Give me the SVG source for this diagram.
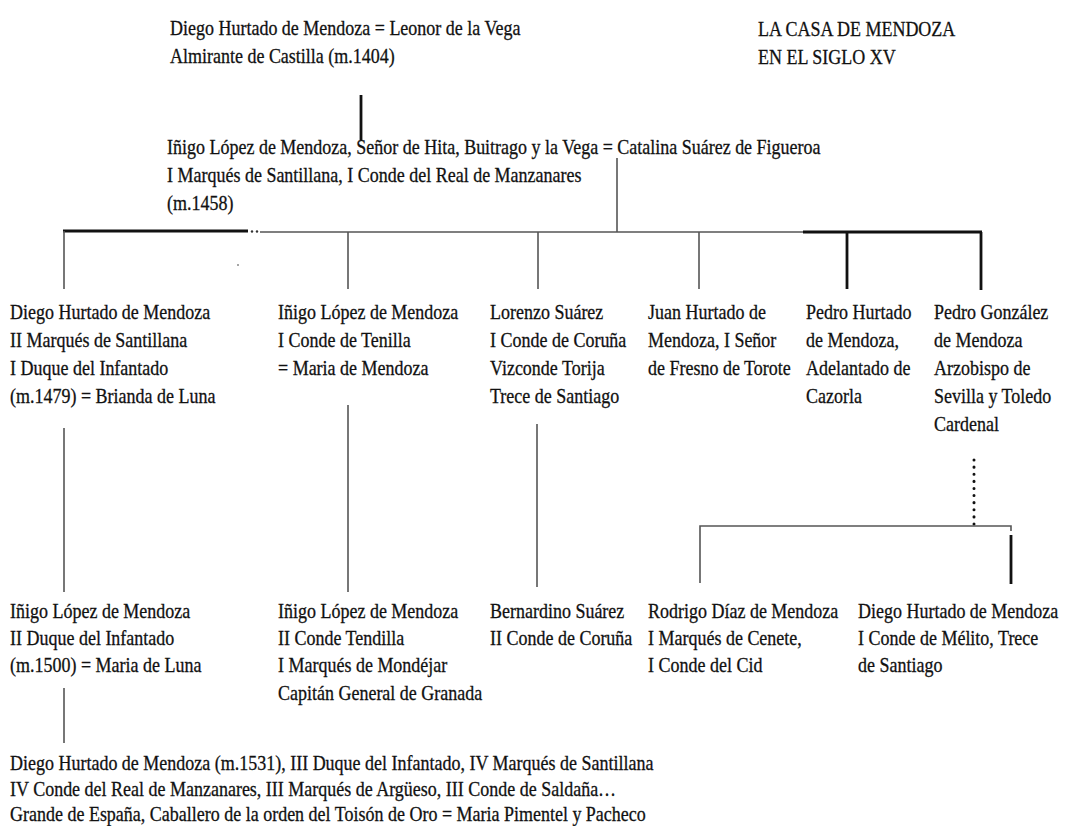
<svg xmlns="http://www.w3.org/2000/svg" width="1066" height="826" viewBox="0 0 1066 826">
<style>
  text { font-family: "Liberation Serif", "Times New Roman", serif; font-size: 21.5px; fill: #111; stroke: #111; stroke-width: 0.3; }
  .thin { stroke: #555; stroke-width: 1.6; fill: none; }
  .thick { stroke: #111; stroke-width: 2.8; fill: none; }
  .dots { stroke: #111; stroke-width: 3; stroke-linecap: round; stroke-dasharray: 0.1 7; fill: none; }
</style>
<rect width="1066" height="826" fill="#ffffff"/>

<g id="connectors">
  <line class="thick" x1="361" y1="95" x2="361" y2="140"/>
  <line class="thin" x1="617" y1="158" x2="617" y2="232"/>
  <line class="thick" x1="63" y1="231" x2="248" y2="231"/>
  <circle cx="252" cy="231.5" r="1.2" fill="#333"/>
  <circle cx="257" cy="231.5" r="1.2" fill="#333"/>
  <line class="thin" x1="260" y1="232" x2="803" y2="232"/>
  <line class="thick" x1="803" y1="232" x2="982" y2="232"/>
  <line class="thin" x1="64" y1="231" x2="64" y2="289"/>
  <line class="thin" x1="348" y1="232" x2="348" y2="289"/>
  <line class="thin" x1="538" y1="232" x2="538" y2="289"/>
  <line class="thin" x1="699" y1="232" x2="699" y2="289"/>
  <line class="thick" x1="847" y1="232" x2="847" y2="289"/>
  <line class="thick" x1="981" y1="232" x2="981" y2="290"/>
  <circle cx="238" cy="265" r="1" fill="#888"/>
  <line class="thin" x1="64" y1="428" x2="64" y2="592"/>
  <line class="thin" x1="348" y1="405" x2="348" y2="592"/>
  <line class="thin" x1="537" y1="424" x2="537" y2="587"/>
  <line class="dots" x1="974" y1="460" x2="974" y2="530"/>
  <polyline class="thin" points="700,583 700,526 1011,526 1011,531"/>
  <line class="thick" x1="1011" y1="535" x2="1011" y2="584"/>
  <line class="thin" x1="64" y1="688" x2="64" y2="743"/>
</g>

<g id="title" transform="translate(758 0) scale(0.837 1)">
  <text x="0" y="36">LA CASA DE MENDOZA</text>
  <text x="0" y="64">EN EL SIGLO XV</text>
</g>

<g id="n-diego-almirante" transform="translate(170 0) scale(0.837 1)">
  <text x="0" y="35">Diego Hurtado de Mendoza = Leonor de la Vega</text>
  <text x="0" y="63">Almirante de Castilla (m.1404)</text>
</g>

<g id="n-inigo-santillana" transform="translate(167 0) scale(0.837 1)">
  <text x="0" y="154">Iñigo López de Mendoza, Señor de Hita, Buitrago y la Vega = Catalina Suárez de Figueroa</text>
  <text x="0" y="182">I Marqués de Santillana, I Conde del Real de Manzanares</text>
  <text x="0" y="210">(m.1458)</text>
</g>

<g id="n-diego-infantado" transform="translate(10 0) scale(0.837 1)">
  <text x="0" y="319">Diego Hurtado de Mendoza</text>
  <text x="0" y="347">II Marqués de Santillana</text>
  <text x="0" y="375">I Duque del Infantado</text>
  <text x="0" y="403">(m.1479) = Brianda de Luna</text>
</g>

<g id="n-inigo-tendilla" transform="translate(278 0) scale(0.837 1)">
  <text x="0" y="319">Iñigo López de Mendoza</text>
  <text x="0" y="347">I Conde de Tenilla</text>
  <text x="0" y="375">= Maria de Mendoza</text>
</g>

<g id="n-lorenzo" transform="translate(490 0) scale(0.837 1)">
  <text x="0" y="319">Lorenzo Suárez</text>
  <text x="0" y="347">I Conde de Coruña</text>
  <text x="0" y="375">Vizconde Torija</text>
  <text x="0" y="403">Trece de Santiago</text>
</g>

<g id="n-juan" transform="translate(648 0) scale(0.837 1)">
  <text x="0" y="319">Juan Hurtado de</text>
  <text x="0" y="347">Mendoza, I Señor</text>
  <text x="0" y="375">de Fresno de Torote</text>
</g>

<g id="n-pedro-hurtado" transform="translate(806 0) scale(0.837 1)">
  <text x="0" y="319">Pedro Hurtado</text>
  <text x="0" y="347">de Mendoza,</text>
  <text x="0" y="375">Adelantado de</text>
  <text x="0" y="403">Cazorla</text>
</g>

<g id="n-pedro-gonzalez" transform="translate(934 0) scale(0.837 1)">
  <text x="0" y="319">Pedro González</text>
  <text x="0" y="347">de Mendoza</text>
  <text x="0" y="375">Arzobispo de</text>
  <text x="0" y="403">Sevilla y Toledo</text>
  <text x="0" y="431">Cardenal</text>
</g>

<g id="n-inigo-ii-duque" transform="translate(10 0) scale(0.837 1)">
  <text x="0" y="618">Iñigo López de Mendoza</text>
  <text x="0" y="645">II Duque del Infantado</text>
  <text x="0" y="672">(m.1500) = Maria de Luna</text>
</g>

<g id="n-inigo-mondejar" transform="translate(278 0) scale(0.837 1)">
  <text x="0" y="618">Iñigo López de Mendoza</text>
  <text x="0" y="645">II Conde Tendilla</text>
  <text x="0" y="672">I Marqués de Mondéjar</text>
  <text x="0" y="700">Capitán General de Granada</text>
</g>

<g id="n-bernardino" transform="translate(490 0) scale(0.837 1)">
  <text x="0" y="618">Bernardino Suárez</text>
  <text x="0" y="645">II Conde de Coruña</text>
</g>

<g id="n-rodrigo" transform="translate(648 0) scale(0.837 1)">
  <text x="0" y="618">Rodrigo Díaz de Mendoza</text>
  <text x="0" y="645">I Marqués de Cenete,</text>
  <text x="0" y="672">I Conde del Cid</text>
</g>

<g id="n-diego-melito" transform="translate(858 0) scale(0.837 1)">
  <text x="0" y="618">Diego Hurtado de Mendoza</text>
  <text x="0" y="645">I Conde de Mélito, Trece</text>
  <text x="0" y="672">de Santiago</text>
</g>

<g id="n-diego-iii-duque" transform="translate(10 0) scale(0.837 1)">
  <text x="0" y="770">Diego Hurtado de Mendoza (m.1531), III Duque del Infantado, IV Marqués de Santillana</text>
  <text x="0" y="796">IV Conde del Real de Manzanares, III Marqués de Argüeso, III Conde de Saldaña…</text>
  <text x="0" y="821">Grande de España, Caballero de la orden del Toisón de Oro = Maria Pimentel y Pacheco</text>
</g>
</svg>
